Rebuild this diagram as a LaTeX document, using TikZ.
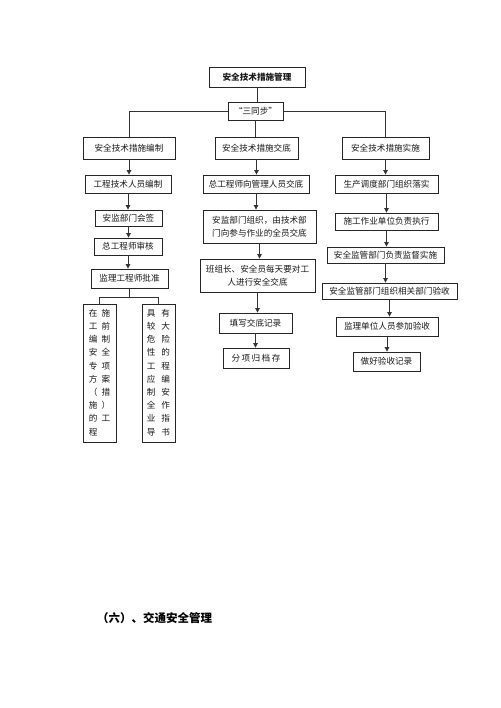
\documentclass[tikz,border=0pt]{standalone}
\usepackage{fontspec}
\setmainfont{Noto Sans CJK SC}
\usetikzlibrary{arrows.meta,calc}
\tikzset{
  bx/.style={draw=black!85, line width=0.8pt, inner sep=0pt, align=center, font=\fontsize{8.6}{12.5}\selectfont, text=black!90},
  ln/.style={draw=black!80, line width=0.8pt},
  ar/.style={ln, -{Triangle[length=4.5pt,width=4.5pt]}}
}
\newcommand{\bxat}[6]{\node[bx, minimum width={(#4-#2)*1pt}, minimum height={(#5-#3)*1pt}] (#1) at ({(#2+#4)/2},{(#3+#5)/2}) {#6};}
\begin{document}
\begin{tikzpicture}[x=1pt,y=-1pt]
\useasboundingbox[fill=white] (0,0) rectangle (500,708);
\bxat{top}{209}{67}{305}{87}{\bfseries 安全技术措施管理}
\bxat{sync}{228}{102}{283}{120}{“三同步”}
\bxat{L1}{83}{137}{175}{159}{安全技术措施编制}
\bxat{M1}{215}{137}{298}{159}{安全技术措施交底}
\bxat{R1}{342}{137}{429}{159}{安全技术措施实施}
\bxat{L2}{85}{175}{171}{193}{工程技术人员编制}
\bxat{M2}{203}{175}{309}{193}{总工程师向管理人员交底}
\bxat{R2}{335}{175}{438}{193}{生产调度部门组织落实}
\bxat{L3}{95}{210}{162}{226}{安监部门会签}
\bxat{L4}{94}{238}{162}{255}{总工程师审核}
\bxat{L5}{91}{269}{168}{288}{监理工程师批准}
\bxat{LA}{83}{304}{116}{442}{\fontsize{8.6}{13.2}\selectfont\begin{tabular}{@{}c@{\hspace{4pt}}c@{}}在&施\\工&前\\编&制\\安&全\\专&项\\方&案\\（&措\\施&）\\的&工\\程&\end{tabular}}
\bxat{LB}{142}{304}{175}{442}{\fontsize{8.6}{13.2}\selectfont\begin{tabular}{@{}c@{\hspace{6pt}}c@{}}具&有\\较&大\\危&险\\性&的\\工&程\\应&编\\制&安\\全&作\\业&指\\导&书\end{tabular}}
\bxat{M3}{203}{210}{316}{243}{安监部门组织，由技术部\\门向参与作业的全员交底}
\bxat{M4}{200}{259}{315}{292}{班组长、安全员每天要对工\\人进行安全交底}
\bxat{M5}{219}{313}{292}{333}{填写交底记录}
\bxat{M6}{223}{348}{289}{368}{分\,项\,归\,档\,存}
\bxat{R3}{335}{213}{438}{230}{施工作业单位负责执行}
\bxat{R4}{327}{247}{444}{263}{安全监管部门负责监督实施}
\bxat{R5}{322}{283}{457}{299}{安全监管部门组织相关部门验收}
\bxat{R6}{336}{317}{438}{336}{监理单位人员参加验收}
\bxat{R7}{353}{352}{420}{371}{做好验收记录}
% top connectors
\draw[ln] (top.south) -- (top.south |- sync.north);
\draw[ln] (sync.west) -| (L1.north);
\draw[ln] (sync.east) -| (R1.north);
\draw[ln] (sync.south) -- (sync.south |- M1.north);
% left column
\draw[ar] (L1.south) -- (L1.south |- L2.north);
\draw[ar] (L2.south) -- (L2.south |- L3.north);
\draw[ar] (L3.south) -- (L3.south |- L4.north);
\draw[ar] (L4.south) -- (L4.south |- L5.north);
\coordinate (fork) at ($(L5.south)+(0,9)$);
\draw[ln] (L5.south) -- (fork);
\draw[ln] (LA.north) |- (fork) -| (LB.north);
% middle column
\draw[ar] (M1.south) -- (M1.south |- M2.north);
\draw[ar] (M2.south) -- (M2.south |- M3.north);
\draw[ar] (M3.south) -- (M3.south |- M4.north);
\draw[ar] (M4.south) -- (M4.south |- M5.north);
\draw[ar] (M5.south) -- (M5.south |- M6.north);
% right column
\draw[ar] (R1.south) -- (R1.south |- R2.north);
\draw[ar] (R2.south) -- (R2.south |- R3.north);
\draw[ar] (R3.south) -- (R3.south |- R4.north);
\draw[ar] (R4.south) -- (R4.south |- R5.north);
\draw[ar] (R5.south) -- (R5.south |- R6.north);
\draw[ar] (R6.south) -- (R6.south |- R7.north);
% heading
\node[anchor=west, inner sep=0pt, font=\fontsize{11.5}{14}\selectfont\bfseries] (head) at (97,618) {（六）、交通安全管理};
\end{tikzpicture}
\end{document}
